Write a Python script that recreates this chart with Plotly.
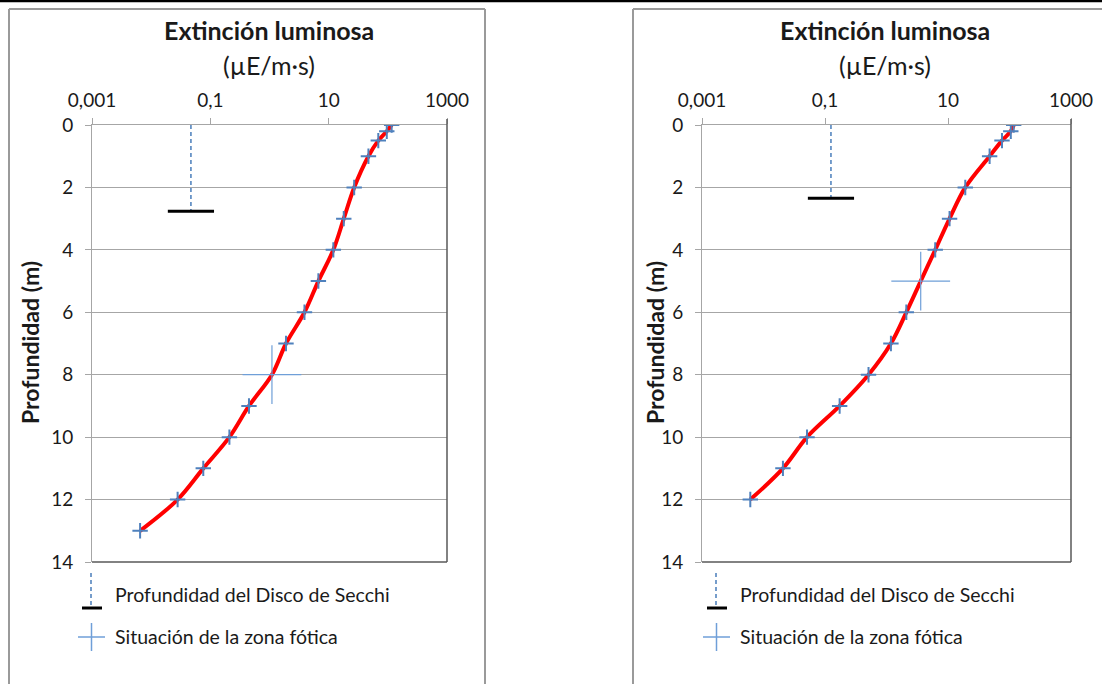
import plotly.graph_objects as go

W, H = 1102, 684
FONT = "Lato"

# Depth profile of light intensity, panel A
depth_a = [0, 0.2, 0.5, 1, 2, 3, 4, 5, 6, 7, 8, 9, 10, 11, 12, 13]
light_a = [116, 96, 69, 47, 27, 18, 12, 6.7, 3.9, 1.9, 1.1, 0.45, 0.21, 0.076, 0.028, 0.0065]
secchi_a = (0.047, 2.76)   # (x position, Secchi depth)
photic_a = (1.1, 8)        # (light, depth) of photic zone limit

# Depth profile of light intensity, panel B
depth_b = [0, 0.2, 0.5, 1, 2, 3, 4, 5, 6, 7, 8, 9, 10, 11, 12]
light_b = [117, 105, 75.5, 47.5, 19.1, 10.6, 6.2, 3.6, 2.1, 1.18, 0.51, 0.173, 0.051, 0.0207, 0.0061]
secchi_b = (0.125, 2.35)
photic_b = (3.6, 5)

x_tickvals = [0.001, 0.1, 10, 1000]
x_ticktext = ["0,001", "0,1", "10", "1000"]
y_tickvals = [0, 2, 4, 6, 8, 10, 12, 14]

title_text = "Extinción luminosa"
unit_text = "(µE/m·s)"
ytitle_text = "Profundidad (m)"
legend_secchi = "Profundidad del Disco de Secchi"
legend_photic = "Situación de la zona fótica"

RED = "#ff0000"
MARK = "#4f81bd"
BIG = "#6f9fd8"
GRID = "#a6a6a6"
DARK = "#595959"
TXT = "#1a1a1a"


def px(p):
    return p / W


def py(p):
    return 1 - p / H


def pline(x0, y0, x1, y1, color, width, dash=None):
    ln = dict(color=color, width=width)
    if dash:
        ln["dash"] = dash
    return dict(type="line", xref="paper", yref="paper",
                x0=px(x0), x1=px(x1), y0=py(y0), y1=py(y1), line=ln)


fig = go.Figure()

panels = [
    dict(xa="x", ya="y", depth=depth_a, light=light_a, secchi=secchi_a, photic=photic_a,
         x0=92, x1=447, leg_x=91),
    dict(xa="x2", ya="y2", depth=depth_b, light=light_b, secchi=secchi_b, photic=photic_b,
         x0=702, x1=1071, leg_x=716),
]
PLOT_TOP, PLOT_BOT = 125, 562

shapes = []
annotations = []

for i, p in enumerate(panels):
    # smooth red profile
    fig.add_trace(go.Scatter(
        x=p["light"], y=p["depth"], mode="lines",
        line=dict(color=RED, width=4, shape="spline", smoothing=1.0),
        xaxis=p["xa"], yaxis=p["ya"], showlegend=False, hoverinfo="skip"))
    # measurement markers (photic point shown separately)
    mx = [v for v, d in zip(p["light"], p["depth"]) if d != p["photic"][1]]
    my = [d for d in p["depth"] if d != p["photic"][1]]
    fig.add_trace(go.Scatter(
        x=mx, y=my, mode="markers",
        marker=dict(symbol="cross-thin", size=11, line=dict(color=MARK, width=2)),
        xaxis=p["xa"], yaxis=p["ya"], showlegend=False))
    # photic zone limit
    fig.add_trace(go.Scatter(
        x=[p["photic"][0]], y=[p["photic"][1]], mode="markers",
        marker=dict(symbol="cross-thin", size=42, line=dict(color=BIG, width=1.2)),
        xaxis=p["xa"], yaxis=p["ya"], showlegend=False))
    # Secchi disc depth: dashed drop line with a black cap
    sx, sd = p["secchi"]
    fig.add_trace(go.Scatter(
        x=[sx, sx], y=[0, sd], mode="lines",
        line=dict(color="#4a7ebb", width=1.5, dash="4px,3px"),
        xaxis=p["xa"], yaxis=p["ya"], showlegend=False))
    fig.add_trace(go.Scatter(
        x=[sx], y=[sd], mode="markers",
        marker=dict(symbol="line-ew", size=33, line=dict(color="black", width=3)),
        xaxis=p["xa"], yaxis=p["ya"], showlegend=False))

    xdom = [px(p["x0"]), px(p["x1"])]
    ydom = [py(PLOT_BOT), py(PLOT_TOP)]
    xkey = "xaxis" if i == 0 else "xaxis2"
    ykey = "yaxis" if i == 0 else "yaxis2"
    fig.update_layout(**{
        xkey: dict(type="log", range=[-3, 3], domain=xdom, anchor=p["ya"], side="top",
                   tickvals=x_tickvals, ticktext=x_ticktext, showgrid=False, zeroline=False,
                   showline=True, linecolor=GRID, linewidth=1, ticks="outside", ticklen=6,
                   tickcolor=GRID, ticklabelstandoff=3, automargin=False,
                   tickfont=dict(family=FONT, size=19, color=TXT)),
        ykey: dict(range=[14, 0], domain=ydom, anchor=p["xa"], tickvals=y_tickvals,
                   showgrid=True, gridcolor=GRID, gridwidth=1, zeroline=False,
                   showline=True, linecolor=GRID, linewidth=1, ticks="outside", ticklen=6,
                   tickcolor=GRID, ticklabelstandoff=8, automargin=False,
                   tickfont=dict(family=FONT, size=19, color=TXT)),
    })
    xd = "x domain" if i == 0 else "x2 domain"
    yd = "y domain" if i == 0 else "y2 domain"
    # darker bottom and right frame of the plot area
    shapes.append(dict(type="line", xref=xd, yref=yd, x0=0, x1=1, y0=0, y1=0,
                       line=dict(color=DARK, width=1.5)))
    shapes.append(dict(type="line", xref=xd, yref="paper", x0=1, x1=1,
                       y0=py(PLOT_BOT), y1=py(PLOT_TOP - 6), line=dict(color=DARK, width=1.5)))

    cx = (p["x0"] + p["x1"]) / 2 + (-1 if i == 0 else -2)
    annotations.append(dict(text=f"<b>{title_text}</b>", x=px(cx), y=py(30), xref="paper",
                            yref="paper", showarrow=False, xanchor="center", yanchor="middle",
                            font=dict(family=FONT, size=25, color=TXT)))
    annotations.append(dict(text=unit_text, x=px(cx), y=py(65), xref="paper", yref="paper",
                            showarrow=False, xanchor="center", yanchor="middle",
                            font=dict(family=FONT, size=25, color=TXT)))
    ty_x = 30 if i == 0 else 655
    annotations.append(dict(text=f"<b>{ytitle_text}</b>", x=px(ty_x), y=py(343), xref="paper",
                            yref="paper", showarrow=False, textangle=-90, xanchor="center",
                            yanchor="middle", font=dict(family=FONT, size=23, color=TXT)))

    # legend entries
    lx = p["leg_x"]
    shapes.append(pline(lx, 573, lx, 605, "#4a7ebb", 1.5, "4px,3px"))
    shapes.append(pline(lx - 9, 608, lx + 11, 608, "black", 3))
    shapes.append(pline(lx - 13, 637, lx + 14, 637, BIG, 1.5))
    shapes.append(pline(lx + 0.5, 623, lx + 0.5, 651, BIG, 1.5))
    annotations.append(dict(text=legend_secchi, x=px(lx + 22), y=py(594), xref="paper",
                            yref="paper", showarrow=False, xanchor="left", yanchor="middle",
                            font=dict(family=FONT, size=19.5, color=TXT)))
    annotations.append(dict(text=legend_photic, x=px(lx + 22), y=py(636), xref="paper",
                            yref="paper", showarrow=False, xanchor="left", yanchor="middle",
                            font=dict(family=FONT, size=19.5, color=TXT)))

# chart frames (open at the bottom / right edge) and the separator line at the top
FRAME = "#9a9a9a"
shapes.append(pline(9, 684, 9, 9, FRAME, 2))
shapes.append(pline(9, 9, 485, 9, FRAME, 2))
shapes.append(pline(485, 9, 485, 684, FRAME, 2))
shapes.append(pline(633, 684, 633, 9, FRAME, 2))
shapes.append(pline(633, 9, 1102, 9, FRAME, 2))
shapes.append(pline(0, 1, 1102, 1, "black", 2.5))

fig.update_layout(width=W, height=H, margin=dict(l=0, r=0, t=0, b=0, pad=0), autosize=False,
                  paper_bgcolor="white", plot_bgcolor="white", showlegend=False,
                  shapes=shapes, annotations=annotations)

fig.write_html("out.html")
